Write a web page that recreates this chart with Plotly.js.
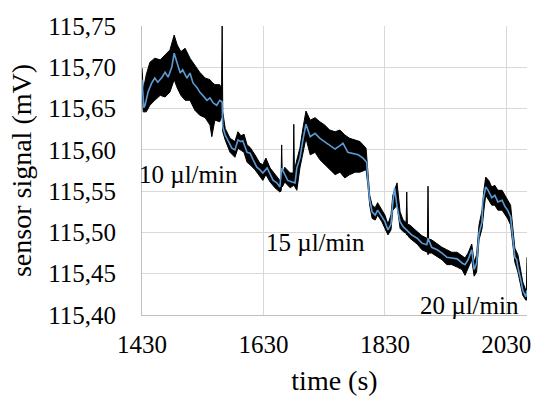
<!DOCTYPE html>
<html>
<head>
<meta charset="utf-8">
<script src="https://cdn.plot.ly/plotly-3.0.1.min.js"></script>
<style>html,body{margin:0;padding:0;background:#fff;}#chart{width:533px;height:398px;}</style>
</head>
<body>
<div id="chart"></div>
<script>
// smoothed signal (blue)
const timeSmooth = [1430,1433,1435,1440,1446,1451,1456,1463,1468,1473,1479,1483,1488,1493,1497,1504,1509,1514,1521,1525,1530,1537,1542,1547,1553,1558,1562,1563,1567,1572,1578,1583,1588,1593,1596,1603,1608,1613,1619,1624,1629,1636,1641,1646,1652,1657,1660,1665,1670,1677,1682,1685,1690,1695,1700,1707,1715,1723,1731,1739,1748,1756,1761,1769,1777,1786,1794,1800,1802,1805,1809,1814,1818,1825,1830,1835,1840,1843,1846,1850,1855,1860,1866,1874,1883,1891,1899,1901,1907,1916,1924,1932,1940,1949,1957,1962,1967,1973,1977,1981,1985,1990,1991,1996,2000,2006,2011,2016,2023,2028,2032,2037,2041,2044,2047,2049,2054,2057,2062,2064];
const signalSmooth = [115.685,115.651,115.654,115.670,115.681,115.687,115.682,115.688,115.694,115.688,115.700,115.717,115.705,115.693,115.697,115.687,115.693,115.681,115.675,115.670,115.666,115.660,115.663,115.657,115.654,115.660,115.658,115.628,115.618,115.610,115.602,115.600,115.612,115.610,115.611,115.597,115.596,115.588,115.579,115.576,115.572,115.578,115.570,115.563,115.560,115.555,115.578,115.570,115.563,115.561,115.560,115.578,115.590,115.612,115.631,115.616,115.620,115.614,115.610,115.605,115.601,115.605,115.608,115.597,115.596,115.594,115.590,115.585,115.563,115.539,115.525,115.521,115.527,115.519,115.513,115.503,115.510,115.536,115.554,115.531,115.513,115.507,115.503,115.497,115.493,115.487,115.485,115.493,115.482,115.479,115.475,115.470,115.469,115.468,115.463,115.461,115.467,115.479,115.455,115.463,115.499,115.513,115.536,115.555,115.551,115.542,115.545,115.537,115.539,115.531,115.527,115.519,115.491,115.470,115.467,115.458,115.442,115.430,115.422,115.430];

// raw signal (black) envelope: upper and lower extent of the noise, with the isolated spikes
const timeRaw = [1430,1432,1437,1443,1451,1460,1468,1476,1483,1488,1494,1501,1509,1517,1525,1534,1542,1545,1550,1558,1561,1562,1563,1567,1575,1583,1588,1593,1598,1603,1608,1616,1624,1629,1634,1641,1649,1657,1659,1660,1661,1665,1674,1679,1680,1681,1685,1690,1695,1700,1707,1715,1723,1731,1739,1748,1756,1764,1772,1781,1789,1799,1802,1805,1809,1814,1818,1825,1830,1835,1840,1843,1850,1855,1860,1865,1866,1867,1871,1883,1891,1899,1900,1901,1902,1907,1916,1924,1932,1940,1949,1957,1962,1967,1973,1977,1981,1985,1990,1993,1996,2001,2006,2011,2016,2023,2028,2032,2037,2041,2044,2049,2054,2057,2062,2063,2064];
const rawHigh = [115.699,115.672,115.691,115.706,115.711,115.709,115.715,115.721,115.739,115.727,115.719,115.723,115.711,115.703,115.694,115.687,115.685,115.682,115.679,115.679,115.675,115.750,115.646,115.626,115.614,115.610,115.622,115.617,115.619,115.606,115.603,115.594,115.584,115.582,115.590,115.578,115.570,115.563,115.565,115.606,115.570,115.579,115.572,115.572,115.631,115.575,115.588,115.602,115.626,115.647,115.636,115.639,115.634,115.630,115.624,115.622,115.624,115.618,115.614,115.612,115.610,115.602,115.570,115.545,115.533,115.530,115.536,115.527,115.521,115.510,115.521,115.545,115.560,115.525,115.515,115.512,115.549,115.510,115.509,115.501,115.496,115.493,115.493,115.556,115.492,115.491,115.486,115.482,115.479,115.476,115.476,115.471,115.469,115.475,115.486,115.464,115.473,115.509,115.527,115.551,115.567,115.563,115.555,115.557,115.551,115.551,115.545,115.539,115.533,115.503,115.481,115.473,115.455,115.440,115.430,115.430,115.470];
const rawLow = [115.680,115.646,115.646,115.654,115.660,115.666,115.664,115.670,115.685,115.675,115.666,115.660,115.660,115.648,115.642,115.639,115.630,115.616,115.636,115.634,115.640,115.646,115.622,115.612,115.597,115.591,115.602,115.600,115.597,115.585,115.582,115.576,115.567,115.563,115.570,115.561,115.554,115.549,115.550,115.557,115.555,115.561,115.554,115.556,115.557,115.556,115.551,115.578,115.594,115.614,115.594,115.597,115.588,115.582,115.576,115.570,115.573,115.566,115.570,115.573,115.573,115.576,115.557,115.533,115.517,115.515,115.521,115.513,115.505,115.497,115.503,115.527,115.533,115.505,115.501,115.499,115.497,115.497,115.493,115.486,115.479,115.476,115.476,115.473,115.475,115.475,115.471,115.467,115.461,115.461,115.458,115.455,115.448,115.457,115.467,115.447,115.452,115.491,115.505,115.527,115.545,115.539,115.533,115.533,115.527,115.527,115.521,115.517,115.509,115.481,115.464,115.452,115.436,115.424,115.418,115.418,115.421];

const xTicks = [1430, 1630, 1830, 2030];
const yTicks = [115.40, 115.45, 115.50, 115.55, 115.60, 115.65, 115.70, 115.75];
const flowLabels = ["10 µl/min", "15 µl/min", "20 µl/min"];
const flowLabelTime = [1506, 1716, 1970];
const flowLabelSignal = [115.570, 115.488, 115.412];

const FONT = "'Liberation Serif', 'Times New Roman', Times, serif";

const traces = [
  {x: timeRaw, y: rawLow, type: 'scatter', mode: 'lines',
   line: {color: '#000', width: 1}, hoverinfo: 'skip', showlegend: false},
  {x: timeRaw, y: rawHigh, type: 'scatter', mode: 'lines', fill: 'tonexty',
   fillcolor: '#000', line: {color: '#000', width: 1}, hoverinfo: 'skip', showlegend: false},
  {x: timeSmooth, y: signalSmooth, type: 'scatter', mode: 'lines',
   line: {color: '#5B9BD5', width: 1.6}, showlegend: false}
];

const layout = {
  width: 533, height: 398,
  margin: {l: 142, r: 6, t: 26, b: 83},
  paper_bgcolor: '#fff', plot_bgcolor: '#fff',
  separators: ', ',
  font: {family: FONT, size: 25, color: '#000'},
  showlegend: false,
  xaxis: {
    range: [1430, 2064], tickvals: xTicks, ticktext: xTicks.map(String),
    showgrid: true, gridcolor: '#d9d9d9', gridwidth: 1,
    showline: true, linecolor: '#bfbfbf', linewidth: 1,
    zeroline: false, ticks: '', ticklabelstandoff: 7,
    tickfont: {family: FONT, size: 25, color: '#000'},
    title: {text: 'time (s)', font: {family: FONT, size: 28, color: '#000'}, standoff: 13}
  },
  yaxis: {
    range: [115.40, 115.75], tickvals: yTicks, tickformat: '.2f',
    showgrid: true, gridcolor: '#d9d9d9', gridwidth: 1,
    showline: true, linecolor: '#bfbfbf', linewidth: 1,
    zeroline: false, ticks: '', ticklabelstandoff: 20,
    tickfont: {family: FONT, size: 25, color: '#000'},
    title: {text: 'sensor signal (mV)', font: {family: FONT, size: 28, color: '#000'}, standoff: 8}
  },
  annotations: flowLabels.map((t, i) => ({
    text: t, x: flowLabelTime[i], y: flowLabelSignal[i], xref: 'x', yref: 'y',
    showarrow: false, font: {family: FONT, size: 25, color: '#000'}
  }))
};

Plotly.newPlot('chart', traces, layout, {displayModeBar: false, staticPlot: true});
</script>
</body>
</html>
